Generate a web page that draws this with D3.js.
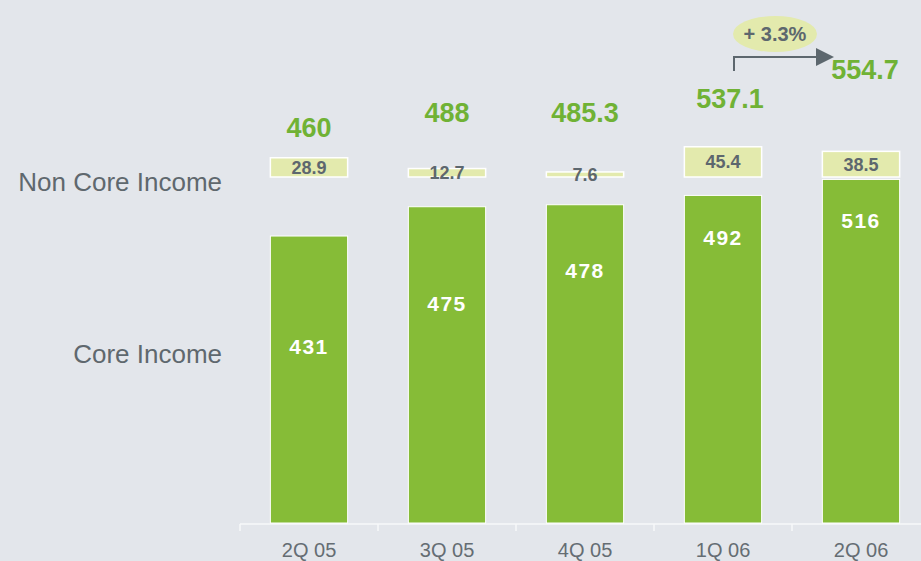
<!DOCTYPE html>
<html>
  <head>
    <meta charset="utf-8">
    <title>Core / Non Core Income</title>
    <script src="https://cdn.jsdelivr.net/npm/d3@7/dist/d3.min.js"></script>
    <style>
      html, body { margin: 0; padding: 0; background: #e3e6eb; }
      #chart { width: 921px; height: 561px; }
      text { font-family: "Liberation Sans", Arial, sans-serif; }
    </style>
  </head>
  <body>
    <div id="chart"></div>
    <script>
      // quarters on the x axis
      var quarters = ["2Q 05", "3Q 05", "4Q 05", "1Q 06", "2Q 06"];
      var coreIncome = [431, 475, 478, 492, 516];
      var nonCoreIncome = [28.9, 12.7, 7.6, 45.4, 38.5];
      var totals = ["460", "488", "485.3", "537.1", "554.7"];
      var coreLabels = ["431", "475", "478", "492", "516"];
      var nonCoreLabels = ["28.9", "12.7", "7.6", "45.4", "38.5"];
      var growthLabel = "+ 3.3%";
      var rowLabels = ["Non Core Income", "Core Income"];

      var w = 921, h = 561;
      var baseY = 523, nonCoreBase = 177;

      var svg = d3.select("#chart").append("svg")
          .attr("width", w)
          .attr("height", h);

      var x = d3.scaleBand()
          .domain(quarters)
          .range([240, 930])
          .paddingInner(0.44)
          .paddingOuter(0.22);

      var y = d3.scaleLinear().domain([0, 600]).range([baseY, baseY - 399.5]);
      var ky = function (v) { return baseY - y(v); };   // value -> pixels

      // where the totals sit (not on the value scale in the original)
      var totalY = d3.scaleLinear().domain([0, 1, 2, 3]).range([137, 122, 122, 108]);
      // where the white figures sit inside the core bars, as a share of bar height
      var coreFrac = d3.scaleLinear().domain([0, 1, 2, 3, 4]).range([0.41, 0.33, 0.23, 0.15, 0.14]);

      var green = "#86bc37", pale = "#e3eaad", grey = "#5d676e", labelGreen = "#70b235";

      // axis line and the separators between quarters
      svg.append("line")
          .attr("x1", 240).attr("x2", w)
          .attr("y1", baseY + 1).attr("y2", baseY + 1)
          .attr("stroke", "#f7f8fa").attr("stroke-width", 1.5);

      var step = x.step();
      svg.selectAll("line.sep")
          .data(quarters)
          .enter().append("line")
          .attr("class", "sep")
          .attr("x1", function (d) { return x(d) - step * 0.22; })
          .attr("x2", function (d) { return x(d) - step * 0.22; })
          .attr("y1", baseY + 1).attr("y2", baseY + 8)
          .attr("stroke", "#f7f8fa").attr("stroke-width", 1.5);

      var axis = svg.append("g")
          .attr("transform", "translate(0," + baseY + ")")
          .call(d3.axisBottom(x).tickSize(0).tickPadding(20));
      axis.select(".domain").remove();
      axis.selectAll("text")
          .attr("font-size", 20)
          .attr("font-family", "Liberation Sans, Arial, sans-serif")
          .attr("fill", "#656d73");

      // core bars
      svg.selectAll("rect.core")
          .data(coreIncome)
          .enter().append("rect")
          .attr("class", "core")
          .attr("x", function (d, i) { return x(quarters[i]); })
          .attr("y", function (d) { return y(d); })
          .attr("width", x.bandwidth())
          .attr("height", function (d) { return baseY - y(d); })
          .attr("fill", green)
          .attr("stroke", "#ffffff").attr("stroke-width", 1);

      svg.selectAll("text.core")
          .data(coreLabels)
          .enter().append("text")
          .attr("class", "core")
          .attr("x", function (d, i) { return x(quarters[i]) + x.bandwidth() / 2; })
          .attr("y", function (d, i) { return y(coreIncome[i]) + coreFrac(i) * ky(coreIncome[i]); })
          .attr("text-anchor", "middle")
          .attr("font-size", 21).attr("font-weight", "bold")
          .attr("letter-spacing", 1.5)
          .attr("fill", "#ffffff")
          .text(function (d) { return d; });

      // non core boxes, all standing on the same line
      svg.selectAll("rect.noncore")
          .data(nonCoreIncome)
          .enter().append("rect")
          .attr("class", "noncore")
          .attr("x", function (d, i) { return x(quarters[i]); })
          .attr("y", function (d) { return nonCoreBase - ky(d); })
          .attr("width", x.bandwidth())
          .attr("height", function (d) { return ky(d); })
          .attr("fill", pale)
          .attr("stroke", "#ffffff").attr("stroke-width", 1.5);

      svg.selectAll("text.noncore")
          .data(nonCoreLabels)
          .enter().append("text")
          .attr("class", "noncore")
          .attr("x", function (d, i) { return x(quarters[i]) + x.bandwidth() / 2; })
          .attr("y", function (d, i) { return nonCoreBase - ky(nonCoreIncome[i]) / 2 + 6.5; })
          .attr("text-anchor", "middle")
          .attr("font-size", 18).attr("font-weight", "bold")
          .attr("fill", grey)
          .text(function (d) { return d; });

      // totals over the bars (last one sits at the end of the arrow)
      svg.selectAll("text.total")
          .data(totals)
          .enter().append("text")
          .attr("class", "total")
          .attr("x", function (d, i) { return i < 4 ? x(quarters[i]) + x.bandwidth() / 2 + (i == 3 ? 7 : 0) : 865; })
          .attr("y", function (d, i) { return i < 4 ? totalY(i) : 79; })
          .attr("text-anchor", "middle")
          .attr("font-size", 27).attr("font-weight", "bold")
          .attr("fill", labelGreen)
          .text(function (d) { return d; });

      // growth arrow from 1Q 06 to 2Q 06
      svg.append("path")
          .attr("d", "M734,71 V57 H818")
          .attr("fill", "none")
          .attr("stroke", grey).attr("stroke-width", 2);
      svg.append("path")
          .attr("d", "M816,48 L834,57 L816,66 Z")
          .attr("fill", grey);

      svg.append("ellipse")
          .attr("cx", 775).attr("cy", 34)
          .attr("rx", 42).attr("ry", 18)
          .attr("fill", pale);
      svg.append("text")
          .attr("x", 775).attr("y", 41)
          .attr("text-anchor", "middle")
          .attr("font-size", 20).attr("font-weight", "bold")
          .attr("fill", grey)
          .text(growthLabel);

      // row labels on the left
      svg.selectAll("text.row")
          .data(rowLabels)
          .enter().append("text")
          .attr("class", "row")
          .attr("x", 222)
          .attr("y", function (d, i) { return i == 0 ? 191 : 363; })
          .attr("text-anchor", "end")
          .attr("font-size", 26)
          .attr("fill", "#5f686e")
          .text(function (d) { return d; });
    </script>
  </body>
</html>
